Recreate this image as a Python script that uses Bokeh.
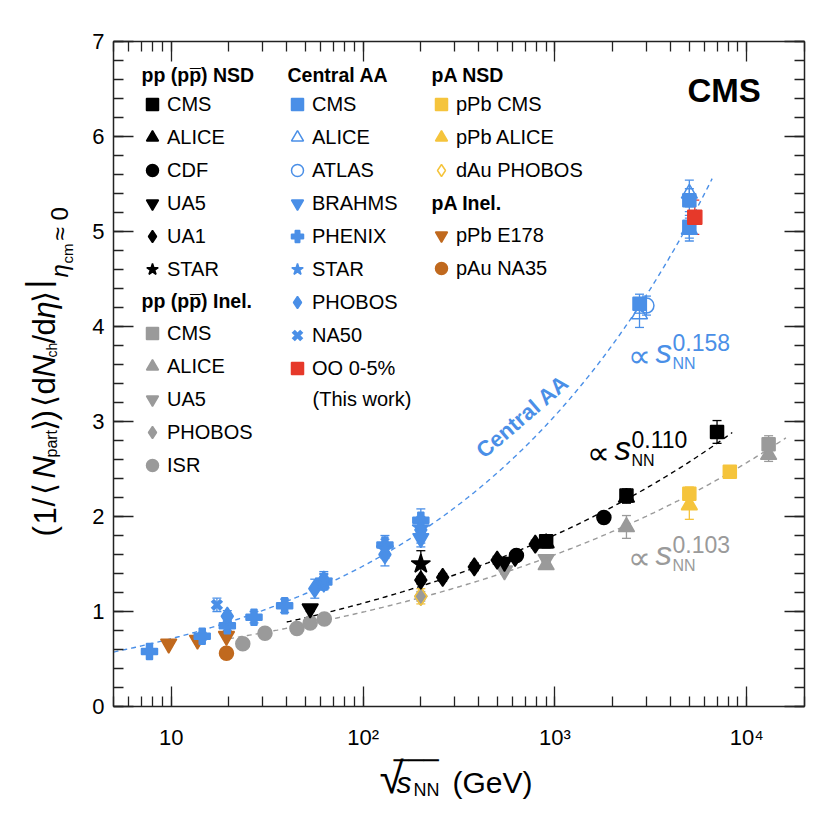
import numpy as np
from bokeh.plotting import figure
from bokeh.models import (ColumnDataSource, Whisker, TeeHead, Label, Legend, LegendItem,
                          LinearAxis, LogAxis, SingleIntervalTicker, LogTicker,
                          CustomJSTickFormatter, Range1d)
from bokeh.embed import file_html
from bokeh.resources import INLINE

# ---------------- axes ----------------
X_RANGE = (5.0, 20000.0)
Y_RANGE = (0.0, 7.0)
X_TICK_LABELS = {10: "10", 100: "10\u00b2", 1000: "10\u00b3", 10000: "10\u2074"}

# ---------------- pp (ppbar) NSD : black ----------------
ppnsd_cms_x = [900, 2360, 7000]
ppnsd_cms_y = [1.74, 2.22, 2.89]
ppnsd_cms_e = [0.06, 0.07, 0.12]
ppnsd_alice_x = [900, 2360]
ppnsd_alice_y = [1.72, 2.20]
ppnsd_alice_e = [0.05, 0.06]
ppnsd_cdf_x = [630, 1800]
ppnsd_cdf_y = [1.59, 1.99]
ppnsd_cdf_e = [0.05, 0.05]
ppnsd_ua5_x = [53, 546]
ppnsd_ua5_y = [1.03, 1.52]
ppnsd_ua5_e = [0.03, 0.04]
ppnsd_ua1_x = [200, 260, 380, 500, 620, 790]
ppnsd_ua1_y = [1.33, 1.36, 1.47, 1.54, 1.57, 1.71]
ppnsd_ua1_e = [0.04, 0.04, 0.04, 0.04, 0.04, 0.04]
ppnsd_star_x = [200]
ppnsd_star_y = [1.50]
ppnsd_star_e = [0.14]

# ---------------- pp (ppbar) inelastic : gray ----------------
ppinel_cms_x = [13000]
ppinel_cms_y = [2.76]
ppinel_cms_e = [0.09]
ppinel_alice_x = [900, 2360, 13000]
ppinel_alice_y = [1.49, 1.89, 2.65]
ppinel_alice_e = [0.04, 0.12, 0.07]
ppinel_ua5_x = [546, 900]
ppinel_ua5_y = [1.43, 1.55]
ppinel_ua5_e = [0.03, 0.03]
ppinel_phobos_x = [200]
ppinel_phobos_y = [1.16]
ppinel_phobos_e = [0.05]
ppinel_isr_x = [23.6, 30.8, 45.2, 53.0, 62.8]
ppinel_isr_y = [0.66, 0.77, 0.82, 0.88, 0.92]
ppinel_isr_e = [0.02, 0.02, 0.02, 0.02, 0.02]

# ---------------- central AA : blue ----------------
aa_cms_x = [2760, 5020, 5020]
aa_cms_y = [4.24, 5.05, 5.33]
aa_cms_e = [0.10, 0.12, 0.12]
aa_alice_x = [2760, 5020, 5020]
aa_alice_y = [4.13, 5.02, 5.40]
aa_alice_e = [0.14, 0.12, 0.14]
aa_atlas_x = [3000]
aa_atlas_y = [4.22]
aa_atlas_e = [0.10]
aa_brahms_x = [62.4, 200]
aa_brahms_y = [1.30, 1.77]
aa_brahms_e = [0.07, 0.09]
aa_phenix_x = [7.7, 14.5, 19.6, 27, 39, 62.4, 130, 200]
aa_phenix_y = [0.58, 0.74, 0.85, 0.94, 1.06, 1.31, 1.70, 1.96]
aa_phenix_e = [0.03, 0.04, 0.05, 0.06, 0.07, 0.08, 0.10, 0.12]
aa_star_x = [62.4, 130, 200]
aa_star_y = [1.32, 1.66, 1.88]
aa_star_e = [0.08, 0.10, 0.10]
aa_phobos_x = [19.6, 56, 62.4, 130, 200]
aa_phobos_y = [0.95, 1.24, 1.33, 1.60, 1.86]
aa_phobos_e = [0.06, 0.10, 0.09, 0.12, 0.14]
aa_na50_x = [17.3]
aa_na50_y = [1.07]
aa_na50_e = [0.07]
aa_oo_x = [5360]
aa_oo_y = [5.15]
aa_oo_e = [0.18]

# ---------------- pA : yellow / brown ----------------
pa_cms_x = [5020, 8160]
pa_cms_y = [2.24, 2.47]
pa_cms_e = [0.07, 0.04]
pa_alice_x = [5020]
pa_alice_y = [2.12]
pa_alice_e = [0.15]
pa_dau_x = [200]
pa_dau_y = [1.16]
pa_dau_e = [0.08]
pa_e178_x = [9.7, 13.7, 19.4]
pa_e178_y = [0.66, 0.70, 0.74]
pa_na35_x = [19.4]
pa_na35_y = [0.56]

# ---------------- power-law fits  a * (sqrt s)^(2b) ----------------
FIT_AA = dict(a=0.345, b=0.158, xmin=5.0, xmax=6600.0)
FIT_PPNSD = dict(a=0.395, b=0.110, xmin=40.0, xmax=8400.0)
FIT_PPINEL = dict(a=0.385, b=0.103, xmin=20.0, xmax=16000.0)

# ---------------- styles ----------------
BLACK = "#000000"
GRAY = "#9a9a9a"
BLUE = "#4a8fe7"
RED = "#e6392a"
YELLOW = "#f5c43c"
BROWN = "#c0691e"
FONT = "Liberation Sans"
AX_COL = "#222222"

# canvas and axis-box geometry (pixels)
CANVAS_W, CANVAS_H = 820, 812
BOX_L, BOX_T, BOX_R, BOX_B = 113, 41, 804, 706

# the plotting frame covers the whole canvas; the axes are drawn at the box edges
lx0, lx1 = np.log10(X_RANGE)
dec_px = (BOX_R - BOX_L) / (lx1 - lx0)
x_full = (10 ** (lx0 - BOX_L / dec_px), 10 ** (lx1 + (CANVAS_W - BOX_R) / dec_px))
unit_px = (BOX_B - BOX_T) / (Y_RANGE[1] - Y_RANGE[0])
y_full = (Y_RANGE[0] - (CANVAS_H - BOX_B) / unit_px, Y_RANGE[1] + BOX_T / unit_px)

p = figure(width=CANVAS_W, height=CANVAS_H, x_axis_type="log",
           x_range=Range1d(*x_full), y_range=Range1d(*y_full),
           x_axis_location=None, y_axis_location=None,
           output_backend="svg", toolbar_location=None,
           min_border_left=0, min_border_right=0, min_border_top=0, min_border_bottom=0)
p.grid.visible = False
p.outline_line_color = None
p.background_fill_color = "white"
p.border_fill_color = "white"

yticker = SingleIntervalTicker(interval=1, num_minor_ticks=5)
xticker = LogTicker(num_minor_ticks=10)
blank = CustomJSTickFormatter(code="return ''")


def style_axis(ax):
    ax.major_tick_in = 20
    ax.major_tick_out = 0
    ax.minor_tick_in = 10
    ax.minor_tick_out = 0
    ax.axis_line_color = AX_COL
    ax.axis_line_width = 1.5
    ax.major_tick_line_color = AX_COL
    ax.minor_tick_line_color = AX_COL
    ax.major_tick_line_width = 1.3
    ax.minor_tick_line_width = 1.3
    ax.major_label_text_font = FONT
    ax.major_label_text_font_size = "22px"
    ax.major_label_text_color = "black"


ax_b = LogAxis(ticker=xticker, fixed_location=Y_RANGE[0], bounds=X_RANGE,
               major_label_overrides=X_TICK_LABELS)
ax_t = LogAxis(ticker=xticker, fixed_location=Y_RANGE[1], bounds=X_RANGE, formatter=blank)
ax_l = LinearAxis(ticker=yticker, fixed_location=X_RANGE[0], bounds=Y_RANGE)
ax_r = LinearAxis(ticker=yticker, fixed_location=X_RANGE[1], bounds=Y_RANGE, formatter=blank)
for ax in (ax_b, ax_t, ax_l, ax_r):
    style_axis(ax)
ax_b.major_label_standoff = 18
ax_l.major_label_standoff = 9
for ax in (ax_t, ax_r):
    ax.major_label_standoff = 0
    ax.major_label_text_font_size = "2px"
p.add_layout(ax_b, "below")
p.add_layout(ax_t, "above")
p.add_layout(ax_l, "left")
p.add_layout(ax_r, "right")

# ---------------- fit curves ----------------
for fit, col in ((FIT_AA, BLUE), (FIT_PPNSD, BLACK), (FIT_PPINEL, GRAY)):
    xs = np.geomspace(fit["xmin"], fit["xmax"], 300)
    ys = fit["a"] * (xs ** 2) ** fit["b"]
    p.line(xs, ys, line_color=col, line_width=1.4, line_dash="5 4")


# ---------------- data series ----------------
def series(xs, ys, es, marker, color, size, open_=False, lw=1.5, line_width=None):
    lo = [y - e for y, e in zip(ys, es)] if es else ys
    hi = [y + e for y, e in zip(ys, es)] if es else ys
    src = ColumnDataSource(dict(x=xs, y=ys, lo=lo, hi=hi))
    if es:
        p.add_layout(Whisker(source=src, base="x", upper="hi", lower="lo",
                             line_color=color, line_width=1.3,
                             upper_head=TeeHead(size=9, line_color=color, line_width=1.3),
                             lower_head=TeeHead(size=9, line_color=color, line_width=1.3)))
    return p.scatter("x", "y", source=src, marker=marker, size=size,
                     fill_color=None if open_ else color, line_color=color,
                     line_width=line_width if line_width else lw)


# gray inelastic
r_gi_isr = series(ppinel_isr_x, ppinel_isr_y, ppinel_isr_e, "circle", GRAY, 14)
r_gi_phobos = series(ppinel_phobos_x, ppinel_phobos_y, ppinel_phobos_e, "diamond", GRAY, 18)
r_gi_ua5 = series(ppinel_ua5_x, ppinel_ua5_y, ppinel_ua5_e, "inverted_triangle", GRAY, 16)
r_gi_alice = series(ppinel_alice_x, ppinel_alice_y, ppinel_alice_e, "triangle", GRAY, 16)
r_gi_cms = series(ppinel_cms_x, ppinel_cms_y, ppinel_cms_e, "square", GRAY, 13)

# pA
r_pa_e178 = series(pa_e178_x, pa_e178_y, None, "inverted_triangle", BROWN, 16)
r_pa_na35 = series(pa_na35_x, pa_na35_y, None, "circle", BROWN, 14)
r_pa_dau = series(pa_dau_x, pa_dau_y, pa_dau_e, "diamond", YELLOW, 18, open_=True)
r_pa_alice = series(pa_alice_x, pa_alice_y, pa_alice_e, "triangle", YELLOW, 16)
r_pa_cms = series(pa_cms_x, pa_cms_y, pa_cms_e, "square", YELLOW, 13)

# black NSD
r_bn_alice = series(ppnsd_alice_x, ppnsd_alice_y, ppnsd_alice_e, "triangle", BLACK, 16)
r_bn_cdf = series(ppnsd_cdf_x, ppnsd_cdf_y, ppnsd_cdf_e, "circle", BLACK, 14)
r_bn_ua5 = series(ppnsd_ua5_x, ppnsd_ua5_y, ppnsd_ua5_e, "inverted_triangle", BLACK, 16)
r_bn_ua1 = series(ppnsd_ua1_x, ppnsd_ua1_y, ppnsd_ua1_e, "diamond", BLACK, 18)
r_bn_star = series(ppnsd_star_x, ppnsd_star_y, ppnsd_star_e, "star", BLACK, 20)
r_bn_cms = series(ppnsd_cms_x, ppnsd_cms_y, ppnsd_cms_e, "square", BLACK, 13)

# blue AA
r_aa_phenix = series(aa_phenix_x, aa_phenix_y, aa_phenix_e, "plus", BLUE, 16)
r_aa_phobos = series(aa_phobos_x, aa_phobos_y, aa_phobos_e, "diamond", BLUE, 18)
r_aa_brahms = series(aa_brahms_x, aa_brahms_y, aa_brahms_e, "inverted_triangle", BLUE, 16)
r_aa_star = series(aa_star_x, aa_star_y, aa_star_e, "star", BLUE, 18)
r_aa_na50 = series(aa_na50_x, aa_na50_y, aa_na50_e, "x", BLUE, 13, line_width=4.5)
r_aa_alice = series(aa_alice_x, aa_alice_y, aa_alice_e, "triangle", BLUE, 16, open_=True)
r_aa_atlas = series(aa_atlas_x, aa_atlas_y, aa_atlas_e, "circle", BLUE, 15, open_=True)
r_aa_cms = series(aa_cms_x, aa_cms_y, aa_cms_e, "square", BLUE, 13)
r_aa_oo = series(aa_oo_x, aa_oo_y, aa_oo_e, "square", RED, 14)

# ---------------- legends ----------------
ROW_H = 30
ROW_GAP = 3


def make_legend(entries, marker_px, top_px):
    n = len(entries)
    height = n * ROW_H + (n - 1) * ROW_GAP
    vx = marker_px - ROW_H / 2
    vy = CANVAS_H - (top_px + height)
    leg = Legend(items=[LegendItem(label=lab, renderers=[r]) for lab, r in entries],
                 location=(vx, vy), orientation="vertical",
                 glyph_width=ROW_H, glyph_height=ROW_H, label_height=ROW_H,
                 label_standoff=0, spacing=ROW_GAP, padding=0, margin=0,
                 background_fill_alpha=0, border_line_alpha=0,
                 label_text_font=FONT, label_text_font_size="20px",
                 label_text_color="black")
    p.add_layout(leg)


make_legend([("CMS", r_bn_cms), ("ALICE", r_bn_alice), ("CDF", r_bn_cdf),
             ("UA5", r_bn_ua5), ("UA1", r_bn_ua1), ("STAR", r_bn_star)], 152, 89)
make_legend([("CMS", r_gi_cms), ("ALICE", r_gi_alice), ("UA5", r_gi_ua5),
             ("PHOBOS", r_gi_phobos), ("ISR", r_gi_isr)], 152, 318)
make_legend([("CMS", r_aa_cms), ("ALICE", r_aa_alice), ("ATLAS", r_aa_atlas),
             ("BRAHMS", r_aa_brahms), ("PHENIX", r_aa_phenix), ("STAR", r_aa_star),
             ("PHOBOS", r_aa_phobos), ("NA50", r_aa_na50), ("OO 0-5%", r_aa_oo)], 297, 89)
make_legend([("pPb CMS", r_pa_cms), ("pPb ALICE", r_pa_alice),
             ("dAu PHOBOS", r_pa_dau)], 441, 89)
make_legend([("pPb E178", r_pa_e178), ("pAu NA35", r_pa_na35)], 441, 220)


# ---------------- texts (positions are text centres, in canvas pixels) ----------------
def label(text, px, py, size, color=BLACK, style="normal", font=FONT,
          align="left", angle=0.0):
    p.add_layout(Label(x=X_RANGE[0], y=Y_RANGE[1], x_offset=px - BOX_L,
                       y_offset=BOX_T - py, text=text, text_font=font,
                       text_font_size=f"{size}px", text_font_style=style,
                       text_color=color, text_align=align, text_baseline="middle",
                       angle=angle))


PPBAR = "pp (pp\u0305)"
label(PPBAR + " NSD", 141, 74, 19.5, style="bold")
label(PPBAR + " Inel.", 141, 300, 19.5, style="bold")
label("Central AA", 287, 74, 19.5, style="bold")
label("pA NSD", 431, 74, 19.5, style="bold")
label("pA Inel.", 431, 202, 19.5, style="bold")
label("(This work)", 312, 398, 20)

label("CMS", 687, 90, 33, style="bold")
label("Central AA", 522, 416, 22, color=BLUE, style="bold", align="center", angle=0.71)


def prop_label(px, sc, exponent, color):
    label("\u221d", px, sc + 1, 32, color=color)
    label("s", px + 28, sc - 3, 33, color=color, style="italic")
    label("NN", px + 45, sc + 9, 16, color=color)
    label(exponent, px + 45, sc - 12, 23, color=color)


prop_label(627, 354, "0.158", BLUE)
prop_label(586, 451, "0.110", BLACK)
prop_label(627, 556, "0.103", GRAY)

# x-axis title  sqrt(s_NN) (GeV)
label("\u221a", 379, 777, 44)
label("\u2500\u2500\u2500", 393, 760, 25, font="DejaVu Sans Mono")
label("s", 396, 782, 30, style="italic")
label("NN", 413, 789, 18)
label("(GeV)", 452, 782, 30)

# y-axis title: rotated pieces (text, size, style, centre-x, start-y)
MAIN_X, SUB_X, BAR_X, ETA_X, CM_X = 44, 51, 36, 58.6, 66.7
YL_PIECES = [("(", 31, "normal", MAIN_X, 536), ("1", 31, "normal", MAIN_X, 524),
             ("/", 31, "normal", MAIN_X, 506), ("\u27e8", 31, "normal", MAIN_X, 494),
             ("N", 31, "italic", MAIN_X, 478), ("part", 16, "normal", SUB_X, 457),
             ("\u27e9", 31, "normal", MAIN_X, 430), (")", 31, "normal", MAIN_X, 420),
             ("\u27e8", 31, "normal", MAIN_X, 406), ("d", 31, "normal", MAIN_X, 394),
             ("N", 31, "italic", MAIN_X, 377), ("ch", 14, "normal", SUB_X, 357),
             ("/", 31, "normal", MAIN_X, 343), ("d", 31, "normal", MAIN_X, 335),
             ("\u03b7", 31, "italic", MAIN_X, 318), ("\u27e9", 31, "normal", MAIN_X, 302),
             ("|", 34, "normal", BAR_X, 288), ("\u03b7", 24, "italic", ETA_X, 277),
             ("cm", 15, "normal", CM_X, 263), ("\u2248", 24, "normal", ETA_X, 240),
             ("0", 24, "normal", ETA_X, 220)]
for t, s, st, cx, y0 in YL_PIECES:
    label(t, cx, y0, s, style=st, angle=np.pi / 2)

open("out.html", "w").write(file_html(p, INLINE))
